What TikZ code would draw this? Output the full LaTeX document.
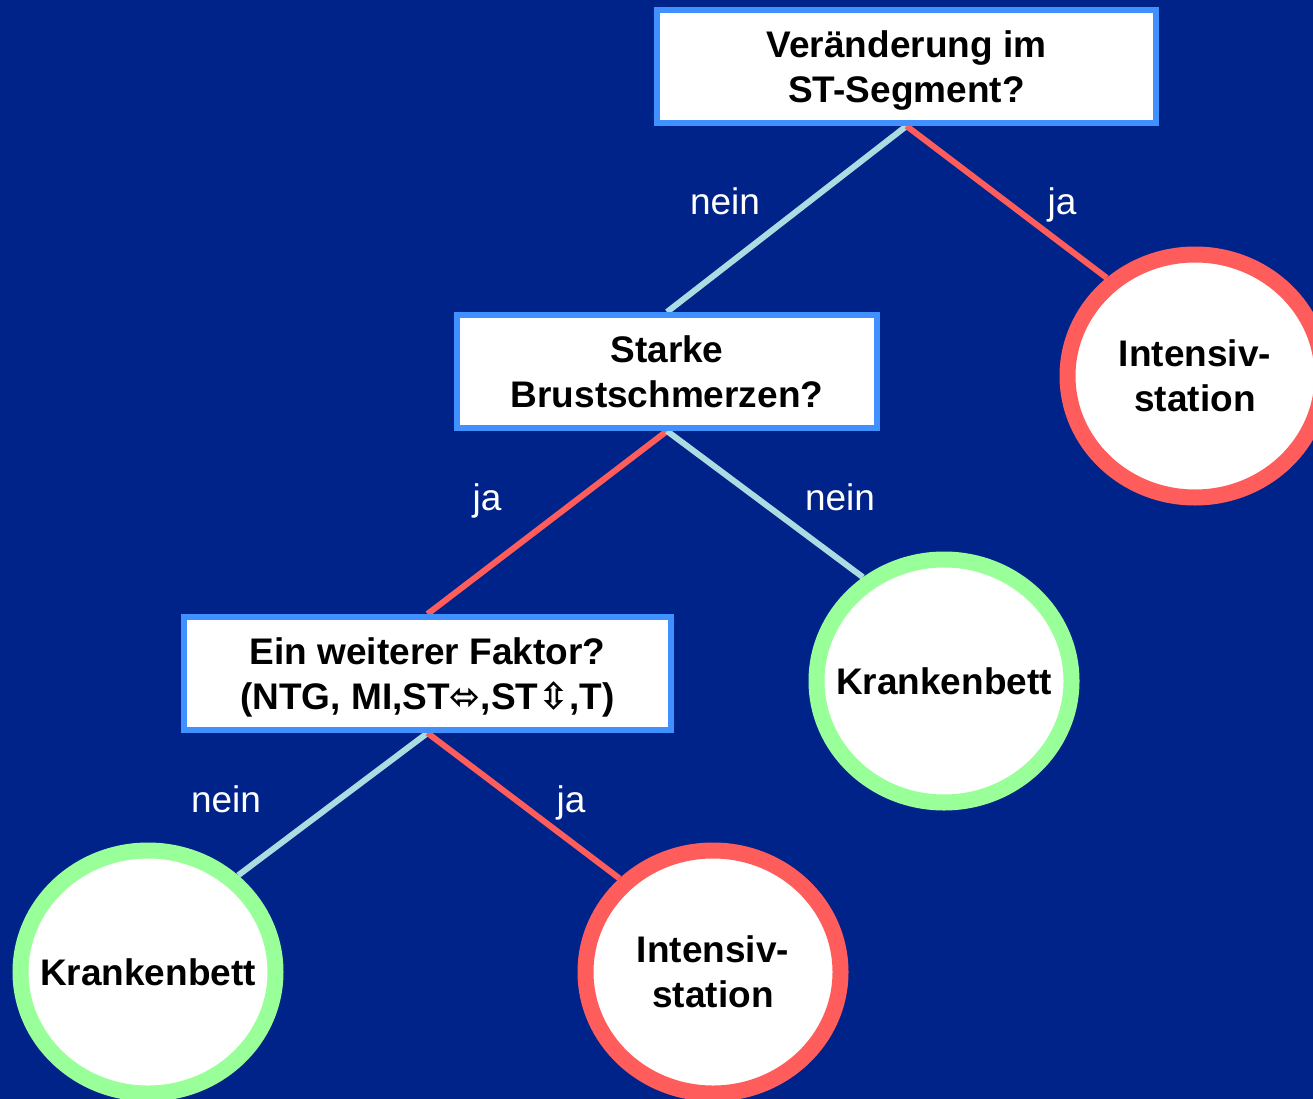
\documentclass[tikz,border=0pt]{standalone}
\usepackage{fontspec}
\setmainfont{Liberation Sans}
\newfontfamily\symfont{DejaVu Sans}
\usetikzlibrary{shapes.geometric}
\pgfdeclarelayer{bg}
\pgfdeclarelayer{lines}
\pgfsetlayers{bg,lines,main}
\definecolor{bgblue}{RGB}{0,35,137}
\definecolor{boxblue}{RGB}{64,144,255}
\definecolor{redc}{RGB}{255,92,92}
\definecolor{greenc}{RGB}{153,255,153}
\definecolor{lbc}{RGB}{170,220,225}
\begin{document}
\begin{tikzpicture}[x=1pt,y=-1pt,
  qbox/.style={draw=boxblue, fill=white, line width=6pt, minimum height=113pt, inner sep=0pt, text depth=0pt, align=center, font=\fontsize{37}{45}\selectfont\bfseries},
  leaf/.style={ellipse, fill=white, line width=16pt, minimum width=255pt, minimum height=243pt, inner sep=0pt},
  leaftext/.style={align=center, inner sep=0pt, text depth=0pt, font=\fontsize{37}{45}\selectfont\bfseries},
  yes/.style={draw=redc, line width=6pt},
  no/.style={draw=lbc, line width=6pt},
  lbl/.style={text=white, anchor=base, inner sep=0pt, font=\fontsize{37}{45}\selectfont}]
\begin{pgfonlayer}{bg}
  \fill[bgblue] (0,0) rectangle (1313,1099);
\end{pgfonlayer}
\useasboundingbox (0,0) rectangle (1313,1099);

\node[qbox, minimum width=499pt] (q1) at (906.5,66.5) {Veränderung im\\ST-Segment?};
\node[qbox, minimum width=420pt] (q2) at (667,371.5) {Starke\\Brustschmerzen?};
\node[qbox, minimum width=487pt] (q3) at (427.5,673.5) {Ein weiterer Faktor?\\(NTG, MI,ST{\symfont\char"2B04},ST{\symfont\char"21F3},T)};

\node[leaf, draw=redc] (i1) at (1195,376) {};
\node[leaf, draw=greenc] (k1) at (944,681) {};
\node[leaf, draw=greenc] (k2) at (148,972) {};
\node[leaf, draw=redc] (i2) at (713,972) {};
\node[leaftext] (ti1) at (i1.center) {Intensiv-\\station};
\node[leaftext] (tk1) at (k1.center) {Krankenbett};
\node[leaftext] (tk2) at (k2.center) {Krankenbett};
\node[leaftext] (ti2) at (i2.center) {Intensiv-\\station};

\begin{pgfonlayer}{lines}
  \draw[no] (q1.south) -- (q2.north);
  \draw[yes] (q1.south) -- (i1.132);
  \draw[yes] (q2.south) -- (q3.north);
  \draw[no] (q2.south) -- (k1.128);
  \draw[no] (q3.south) -- (k2.47);
  \draw[yes] (q3.south) -- (i2.135);
\end{pgfonlayer}

\node[lbl] (l1) at (725,215) {nein};
\node[lbl] (l2) at (1062,215) {ja};
\node[lbl] (l3) at (487,510) {ja};
\node[lbl] (l4) at (840,510) {nein};
\node[lbl] (l5) at (226,812) {nein};
\node[lbl] (l6) at (571,812) {ja};
\end{tikzpicture}
\end{document}
